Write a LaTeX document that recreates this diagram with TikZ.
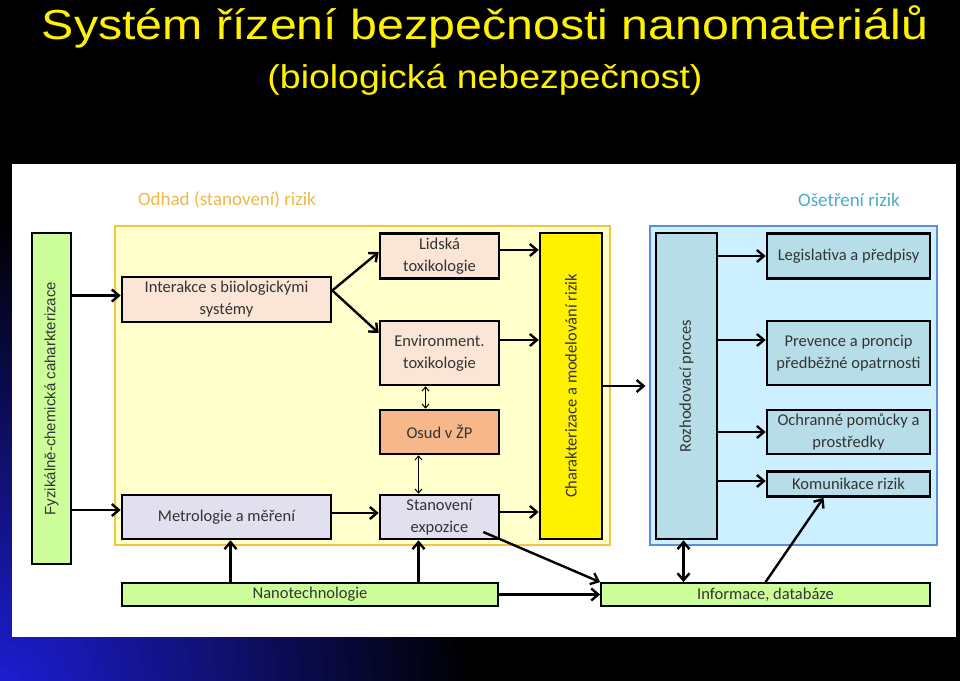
\documentclass[tikz,border=0pt]{standalone}
\usepackage{fontspec}
\setmainfont{Carlito}
\newfontfamily\arialfont{Liberation Sans}
\usetikzlibrary{arrows.meta}
\definecolor{peach}{HTML}{FBE5D6}
\definecolor{salmon}{HTML}{F6B88A}
\definecolor{lavender}{HTML}{E2DFEE}
\definecolor{lime}{HTML}{CCFF99}
\definecolor{paleyellow}{HTML}{FFFFCC}
\definecolor{goldline}{HTML}{F2C441}
\definecolor{goldtext}{HTML}{EEB94A}
\definecolor{paleblue}{HTML}{CCF0FF}
\definecolor{blueline}{HTML}{5B8ED6}
\definecolor{tealtext}{HTML}{4BACC6}
\definecolor{steel}{HTML}{B7DEE8}
\definecolor{glow}{RGB}{30,30,215}
\begin{document}
\begin{tikzpicture}[x=1pt, y=-1pt,
  box/.style={draw=black, line width=2.6pt, inner sep=0pt, align=center,
    text=black!80, font=\fontsize{16.5}{22}\selectfont},
  bar/.style={box, line width=1.8pt, fill=lime},
  arr/.style={line width=2.4pt, -{Straight Barb[length=7pt,width=12pt]}},
  twoway/.style={line width=1pt,
    {Straight Barb[length=4pt,width=7pt]}-{Straight Barb[length=4pt,width=7pt]}},
  bigtwoway/.style={line width=2.4pt,
    {Straight Barb[length=7pt,width=12pt]}-{Straight Barb[length=7pt,width=12pt]}}]
  \useasboundingbox (0,0) rectangle (960,680);

  % Background with blue glow in the lower left corner
  \fill[black] (-10,-10) rectangle (970,690);
  \begin{scope}
    \clip (-10,-10) rectangle (970,690);
    \foreach \i in {0,...,39} {
      \pgfmathsetmacro{\pct}{2.5*\i}
      \fill[glow!\pct!black] (0,690) circle ({480-12*\i});
    }
  \end{scope}

  % Title
  \node[font=\arialfont\fontsize{42}{42}\selectfont, text=yellow, anchor=base] (title) at (485,39)
    {\resizebox{886pt}{\height}{Systém řízení bezpečnosti nanomateriálů}};
  \node[font=\arialfont\fontsize{33}{33}\selectfont, text=yellow, anchor=base] (subtitle) at (485,88)
    {\resizebox{435pt}{\height}{(biologická nebezpečnost)}};

  % White panel
  \fill[white] (12,164) rectangle (956,637);

  % Regions
  \node[draw=goldline, line width=1.2pt, fill=paleyellow, minimum width=495, minimum height=319]
    (assess) at (362.5,385.5) {};
  \node[draw=blueline, line width=1.2pt, fill=paleblue, minimum width=287, minimum height=319]
    (treat) at (793.5,385.5) {};
  \node[font=\fontsize{19}{22}\selectfont, text=goldtext] (assesslabel) at (227,200) {Odhad (stanovení) rizik};
  \node[font=\fontsize{19}{22}\selectfont, text=tealtext] (treatlabel) at (849,200) {Ošetření rizik};

  % Boxes
  \node[box, fill=lime, minimum width=39, minimum height=331,
    font=\arialfont\fontsize{15}{17}\selectfont] (phys) at (51.5,398.5)
    {\rotatebox{90}{Fyzikálně-chemická caharkterizace}};
  \node[box, fill=peach, minimum width=209, minimum height=45] (interakce) at (226.5,299.5)
    {Interakce s biiologickými\\systémy};
  \node[box, fill=lavender, minimum width=209, minimum height=44] (metro) at (226.5,517)
    {Metrologie a měření};
  \node[box, fill=peach, minimum width=119, minimum height=45] (lidska) at (439.5,256)
    {Lidská\\toxikologie};
  \node[box, fill=peach, minimum width=119, minimum height=64] (env) at (439.5,353)
    {Environment.\\toxikologie};
  \node[box, fill=salmon, minimum width=119, minimum height=44] (osud) at (439.5,432)
    {Osud v ŽP};
  \node[box, fill=lavender, minimum width=119, minimum height=44] (expo) at (439.5,517)
    {Stanovení\\expozice};
  \node[box, fill=yellow, minimum width=62, minimum height=306] (char) at (571,386)
    {\rotatebox{90}{Charakterizace a modelování rizik}};
  \node[box, fill=steel, minimum width=61, minimum height=306] (rozh) at (686.5,386)
    {\rotatebox{90}{Rozhodovací proces}};
  \node[box, fill=steel, minimum width=163, minimum height=45] (legis) at (848.5,256)
    {Legislativa a předpisy};
  \node[box, fill=steel, minimum width=163, minimum height=64] (prev) at (848.5,353)
    {Prevence a proncip\\předběžné opatrnosti};
  \node[box, fill=steel, minimum width=163, minimum height=44] (ochr) at (848.5,432)
    {Ochranné pomůcky a\\prostředky};
  \node[box, fill=steel, minimum width=163, minimum height=25] (komu) at (848.5,484)
    {Komunikace rizik};
  \node[bar, minimum width=376, minimum height=23] (nano) at (310,594.5) {Nanotechnologie};
  \node[bar, minimum width=329, minimum height=23] (info) at (765.5,594.5) {Informace, databáze};

  % Arrows in risk assessment
  \draw[arr] ([yshift=4pt]interakce.west -| phys.east) -- ([yshift=4pt]interakce.west);
  \draw[arr] ([yshift=7pt]metro.west -| phys.east) -- ([yshift=7pt]metro.west);
  \draw[arr] ([yshift=9pt]interakce.east) -- ([yshift=4pt]lidska.west);
  \draw[arr] ([yshift=9pt]interakce.east) -- ([yshift=20pt]env.west);
  \draw[arr] ([yshift=4pt]metro.east) -- ([yshift=4pt]expo.west);
  \draw[arr] ([yshift=6pt]lidska.east) -- ([yshift=6pt]lidska.east -| char.west);
  \draw[arr] ([yshift=13pt]env.east) -- ([yshift=13pt]env.east -| char.west);
  \draw[arr] ([yshift=5pt]expo.east) -- ([yshift=5pt]expo.east -| char.west);
  \draw[twoway] ([xshift=-14pt]env.south) -- ([xshift=-14pt]osud.north);
  \draw[twoway] ([xshift=-21pt]osud.south) -- ([xshift=-21pt]expo.north);

  % Arrows from nanotechnology
  \draw[arr] ([xshift=4pt]metro.south |- nano.north) -- ([xshift=4pt]metro.south);
  \draw[arr] ([xshift=-21pt]expo.south |- nano.north) -- ([xshift=-21pt]expo.south);
  \draw[arr] (nano.east) -- (info.west);
  \draw[arr] ([xshift=-17pt,yshift=-15pt]expo.east) -- (info.north west);

  % Arrows in risk treatment
  \draw[arr] (char.east) -- ([xshift=-4pt]char.east -| treat.west);
  \draw[arr] (legis.west -| rozh.east) -- (legis.west);
  \draw[arr] ([yshift=13pt]prev.west -| rozh.east) -- ([yshift=13pt]prev.west);
  \draw[arr] (ochr.west -| rozh.east) -- (ochr.west);
  \draw[arr] ([yshift=3pt]komu.west -| rozh.east) -- ([yshift=3pt]komu.west);
  \draw[bigtwoway] ([xshift=-3pt]rozh.south) -- ([xshift=-3pt]rozh.south |- info.north);
  \draw[arr] (info.north) -- ([xshift=-25pt]komu.south);
\end{tikzpicture}
\end{document}
